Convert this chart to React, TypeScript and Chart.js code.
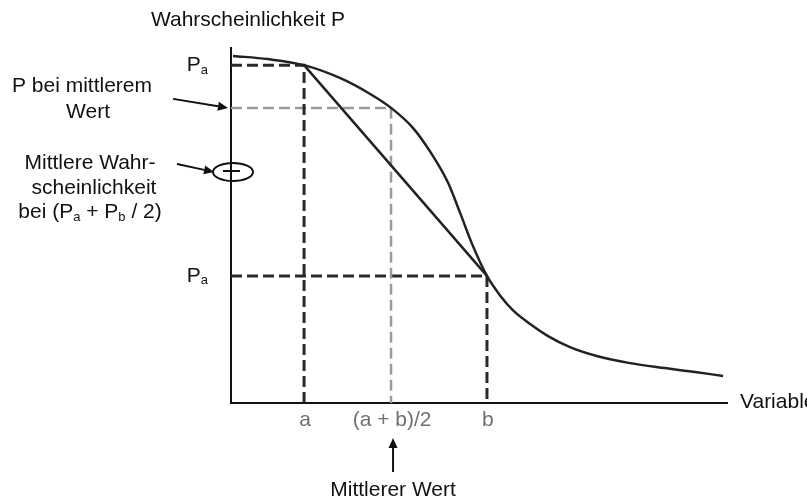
import React, { useEffect, useRef } from "react";
import { Chart, registerables } from "chart.js";

Chart.register(...registerables);

// Curve: probability P over the variable
const curveX = [0.4, 7.4, 14.7, 21.9, 28.0, 32.2, 36.6, 40.4, 43.7, 46.1, 48.5, 51.5, 54.1, 56.7, 60.2, 63.8, 68.2, 73.6, 80.3, 87.3, 93.4, 99.0];
const curveY = [97.5, 96.6, 94.9, 91.3, 86.8, 82.9, 77.3, 69.9, 61.8, 53.4, 44.7, 35.7, 30.3, 26.1, 22.2, 18.8, 15.7, 13.2, 11.2, 9.8, 8.7, 7.6];

// Marked x positions and their labels
const xTickLabels = ["a", "(a + b)/2", "b"];
const xTickValues = [14.7, 32.2, 51.5];

// Probability levels: P at a, P at middle value, P at b
const pLevels = [94.9, 82.9, 35.7];

const FONT = "'Liberation Sans', Arial, Helvetica, sans-serif";

function arrow(ctx: CanvasRenderingContext2D, x1: number, y1: number, x2: number, y2: number) {
  const ang = Math.atan2(y2 - y1, x2 - x1);
  const hl = 10;
  const hw = 4.5;
  const bx = x2 - hl * Math.cos(ang);
  const by = y2 - hl * Math.sin(ang);
  ctx.save();
  ctx.strokeStyle = "#111";
  ctx.fillStyle = "#111";
  ctx.lineWidth = 2;
  ctx.beginPath();
  ctx.moveTo(x1, y1);
  ctx.lineTo(bx, by);
  ctx.stroke();
  ctx.beginPath();
  ctx.moveTo(x2, y2);
  ctx.lineTo(bx + hw * Math.sin(ang), by - hw * Math.cos(ang));
  ctx.lineTo(bx - hw * Math.sin(ang), by + hw * Math.cos(ang));
  ctx.closePath();
  ctx.fill();
  ctx.restore();
}

// draws text with subscripts; parts: [text, isSub]
function richText(ctx: CanvasRenderingContext2D, parts: [string, boolean][], cx: number, y: number, align: "center" | "right" | "left") {
  const big = `21px ${FONT}`;
  const small = `13px ${FONT}`;
  let total = 0;
  for (const [t, sub] of parts) {
    ctx.font = sub ? small : big;
    total += ctx.measureText(t).width;
  }
  let x = align === "center" ? cx - total / 2 : align === "right" ? cx - total : cx;
  ctx.textAlign = "left";
  ctx.textBaseline = "middle";
  for (const [t, sub] of parts) {
    ctx.font = sub ? small : big;
    ctx.fillText(t, x, sub ? y + 5 : y);
    x += ctx.measureText(t).width;
  }
}

const annotations = {
  id: "annotations",
  beforeDatasetsDraw(chart: any) {
    const ctx = chart.ctx as CanvasRenderingContext2D;
    const { left, right, top, bottom } = chart.chartArea;
    ctx.save();
    ctx.strokeStyle = "#111";
    ctx.lineWidth = 2;
    ctx.beginPath();
    ctx.moveTo(left, top);
    ctx.lineTo(left, bottom);
    ctx.lineTo(right, bottom);
    ctx.stroke();
    ctx.restore();
  },
  afterDraw(chart: any) {
    const ctx = chart.ctx as CanvasRenderingContext2D;
    const xs = chart.scales.x;
    const ys = chart.scales.y;
    const { left, right, bottom } = chart.chartArea;
    ctx.save();
    ctx.fillStyle = "#111";
    ctx.font = `21px ${FONT}`;
    ctx.textBaseline = "middle";
    ctx.textAlign = "center";
    ctx.fillText("Wahrscheinlichkeit P", left + 17, 20);

    // P_a labels at level a and level b (as in the original)
    richText(ctx, [["P", false], ["a", true]], left - 23, ys.getPixelForValue(pLevels[0]), "right");
    richText(ctx, [["P", false], ["a", true]], left - 23, ys.getPixelForValue(pLevels[2]), "right");

    ctx.font = `21px ${FONT}`;
    ctx.textAlign = "center";
    ctx.fillText("P bei mittlerem", 82, 86);
    ctx.fillText("Wert", 88, 112);
    ctx.fillText("Mittlere Wahr-", 90, 163);
    ctx.fillText("scheinlichkeit", 94, 188);
    richText(ctx, [["bei (P", false], ["a", true], [" + P", false], ["b", true], [" / 2)", false]], 90, 212, "center");

    const yMid = ys.getPixelForValue(pLevels[1]);
    arrow(ctx, 173, yMid - 9, left - 3, yMid);
    arrow(ctx, 177, 164, left - 17, 172);

    // ellipse marker on the axis
    ctx.strokeStyle = "#111";
    ctx.lineWidth = 2;
    ctx.beginPath();
    ctx.ellipse(left + 2, 172, 20, 9, 0, 0, Math.PI * 2);
    ctx.stroke();
    ctx.beginPath();
    ctx.moveTo(left - 8, 171);
    ctx.lineTo(left + 9, 171);
    ctx.stroke();

    // tick labels
    ctx.fillStyle = "#707070";
    ctx.font = `21px ${FONT}`;
    ctx.textAlign = "center";
    xTickValues.forEach((v, i) => {
      ctx.fillText(xTickLabels[i], xs.getPixelForValue(v) + 1, bottom + 17);
    });

    ctx.fillStyle = "#111";
    ctx.textAlign = "left";
    ctx.fillText("Variable", right + 12, bottom - 1);

    const xm = xs.getPixelForValue(xTickValues[1]) + 2;
    arrow(ctx, xm, bottom + 69, xm, bottom + 35);
    ctx.fillStyle = "#111";
    ctx.font = `21px ${FONT}`;
    ctx.textAlign = "center";
    ctx.fillText("Mittlerer Wert", xm, bottom + 87);
    ctx.restore();
  },
};

export default function App() {
  const ref = useRef<HTMLCanvasElement>(null);
  useEffect(() => {
    if (!ref.current) return;
    const curve = curveX.map((x, i) => ({ x, y: curveY[i] }));
    const [a, m, b] = xTickValues;
    const [pa, pm, pb] = pLevels;
    const dark = "#222";
    const chart = new Chart(ref.current, {
      type: "line",
      data: {
        datasets: [
          {
            data: curve,
            borderColor: dark,
            borderWidth: 2.5,
            pointRadius: 0,
            cubicInterpolationMode: "monotone",
            clip: false as any,
          },
          {
            data: [{ x: a, y: pa }, { x: b, y: pb }],
            borderColor: dark,
            borderWidth: 2.5,
            pointRadius: 0,
            clip: false as any,
          },
          {
            data: [{ x: 0, y: pa }, { x: a, y: pa }, { x: a, y: 0 }],
            borderColor: "#2a2a2a",
            borderWidth: 3,
            borderDash: [11, 5],
            pointRadius: 0,
            clip: false as any,
          },
          {
            data: [{ x: 0, y: pm }, { x: m, y: pm }, { x: m, y: 0 }],
            borderColor: "#9a9a9a",
            borderWidth: 2.5,
            borderDash: [11, 5],
            pointRadius: 0,
            clip: false as any,
          },
          {
            data: [{ x: 0, y: pb }, { x: b, y: pb }, { x: b, y: 0 }],
            borderColor: "#2a2a2a",
            borderWidth: 3,
            borderDash: [11, 5],
            pointRadius: 0,
            clip: false as any,
          },
        ],
      },
      options: {
        animation: false,
        responsive: false,
        devicePixelRatio: 1,
        layout: { padding: { left: 231, right: 79, top: 47, bottom: 96 } },
        plugins: { legend: { display: false }, tooltip: { enabled: false } },
        events: [],
        scales: {
          x: { type: "linear", min: 0, max: 100, display: false },
          y: { type: "linear", min: 0, max: 100, display: false },
        },
      },
      plugins: [annotations],
    });
    return () => chart.destroy();
  }, []);
  return (
    <div style={{ position: "absolute", left: 0, top: 0, width: 807, height: 499, background: "#fff" }}>
      <canvas ref={ref} width={807} height={499} />
    </div>
  );
}
